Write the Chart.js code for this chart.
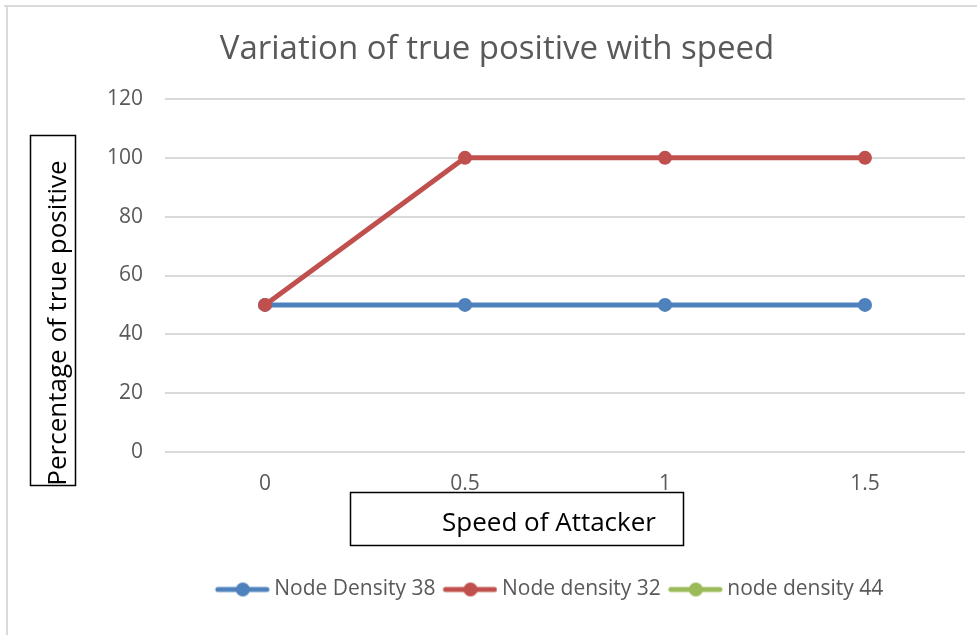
<!DOCTYPE html>
<html>
<head>
<meta charset="utf-8">
<script src="https://cdn.jsdelivr.net/npm/chart.js@4/dist/chart.umd.min.js"></script>
<style>
  html, body { margin: 0; padding: 0; background: #fff; }
  #wrap { position: relative; width: 977px; height: 635px; }
</style>
</head>
<body>
<div id="wrap"><canvas id="chartSpeed" width="977" height="635"></canvas></div>
<script>
// Dữ liệu
const speeds = ['0', '0.5', '1', '1.5'];
const seriesNames = ['Node Density 38', 'Node density 32', 'node density 44'];
const density38 = [50, 50, 50, 50];
const density32 = [50, 100, 100, 100];
const density44 = [null, null, null, null];
const yTicks = [0, 20, 40, 60, 80, 100, 120];
const chartTitle = 'Variation of true positive with speed';
const xTitle = 'Speed of Attacker';
const yTitle = 'Percentage of true positive';

const COLORS = {
    blue: '#4F81BD',
    red: '#C0504D',
    green: '#9BBB59',
    text: '#595959',
    grid: '#d9d9d9'
};

Chart.defaults.font.family = "'Open Sans', sans-serif";
Chart.defaults.color = COLORS.text;

// legend marker: line + circle (drawn a bit to the right so the text gap is small)
function legendMarker(color) {
    const c = document.createElement('canvas');
    c.width = 62; c.height = 16;
    const g = c.getContext('2d');
    g.strokeStyle = color;
    g.lineWidth = 5;
    g.lineCap = 'round';
    g.beginPath(); g.moveTo(10, 8); g.lineTo(59, 8); g.stroke();
    g.fillStyle = color;
    g.beginPath(); g.arc(35, 8, 7, 0, Math.PI * 2); g.fill();
    return c;
}

// title, boxed axis titles, outer frame
const extrasPlugin = {
    id: 'extras',
    afterLayout(chart) {
        // legend sits a little right of centre in the original
        if (chart.legend) { chart.legend.left += 36; chart.legend.right += 36; }
    },
    afterDraw(chart) {
        const ctx = chart.ctx;
        ctx.save();
        ctx.strokeStyle = COLORS.grid;
        ctx.lineWidth = 2;
        ctx.beginPath();
        ctx.moveTo(4, 6); ctx.lineTo(977, 6);
        ctx.moveTo(7, 6); ctx.lineTo(7, 635);
        ctx.stroke();

        ctx.textAlign = 'center';
        ctx.textBaseline = 'middle';
        ctx.fillStyle = COLORS.text;
        ctx.font = "33px 'Open Sans', sans-serif";
        ctx.fillText(chartTitle, 497, 50);

        ctx.strokeStyle = '#000';
        ctx.lineWidth = 1.5;
        ctx.strokeRect(30.5, 135.5, 45, 350);
        ctx.strokeRect(350.5, 492.5, 333, 53);

        ctx.fillStyle = '#000';
        ctx.font = "26px 'Open Sans', sans-serif";
        ctx.fillText(xTitle, 549, 524);

        ctx.translate(59, 323);
        ctx.rotate(-Math.PI / 2);
        ctx.fillText(yTitle, 0, 0);
        ctx.restore();
    }
};

const markers = [legendMarker(COLORS.blue), legendMarker(COLORS.red), legendMarker(COLORS.green)];

new Chart(document.getElementById('chartSpeed'), {
    type: 'line',
    data: {
        labels: speeds,
        datasets: [
            { label: seriesNames[0], data: density38, borderColor: COLORS.blue, backgroundColor: COLORS.blue, order: 2 },
            { label: seriesNames[1], data: density32, borderColor: COLORS.red, backgroundColor: COLORS.red, order: 1 },
            { label: seriesNames[2], data: density44, borderColor: COLORS.green, backgroundColor: COLORS.green, order: 0 }
        ]
    },
    options: {
        responsive: false,
        animation: false,
        layout: { padding: { left: 60, right: 12, top: 99, bottom: 25 } },
        elements: {
            line: { borderWidth: 5, tension: 0 },
            point: { radius: 7, hoverRadius: 7, borderWidth: 0 }
        },
        scales: {
            x: {
                offset: true,
                grid: { display: false },
                border: { display: false },
                ticks: { font: { size: 21 }, color: COLORS.text, padding: 11 },
                afterFit: s => { s.height = 121; }
            },
            y: {
                min: 0, max: 120,
                afterBuildTicks: s => { s.ticks = yTicks.map(v => ({ value: v })); },
                grid: { color: COLORS.grid, lineWidth: 2, drawTicks: false },
                border: { display: false },
                ticks: { font: { size: 21 }, color: COLORS.text, padding: 22 },
                afterFit: s => { s.width = 105; }
            }
        },
        plugins: {
            title: { display: false },
            legend: {
                position: 'bottom',
                labels: {
                    font: { size: 21 },
                    color: COLORS.text,
                    usePointStyle: true,
                    pointStyleWidth: 50,
                    boxHeight: 16,
                    padding: 6,
                    sort: (a, b) => a.datasetIndex - b.datasetIndex,
                    generateLabels: chart => chart.data.datasets.map((ds, i) => ({
                        text: ds.label,
                        fillStyle: ds.borderColor,
                        strokeStyle: ds.borderColor,
                        lineWidth: 0,
                        pointStyle: markers[i],
                        fontColor: COLORS.text,
                        hidden: false,
                        datasetIndex: i
                    }))
                }
            },
            tooltip: { enabled: false }
        }
    },
    plugins: [extrasPlugin]
});
</script>
</body>
</html>
